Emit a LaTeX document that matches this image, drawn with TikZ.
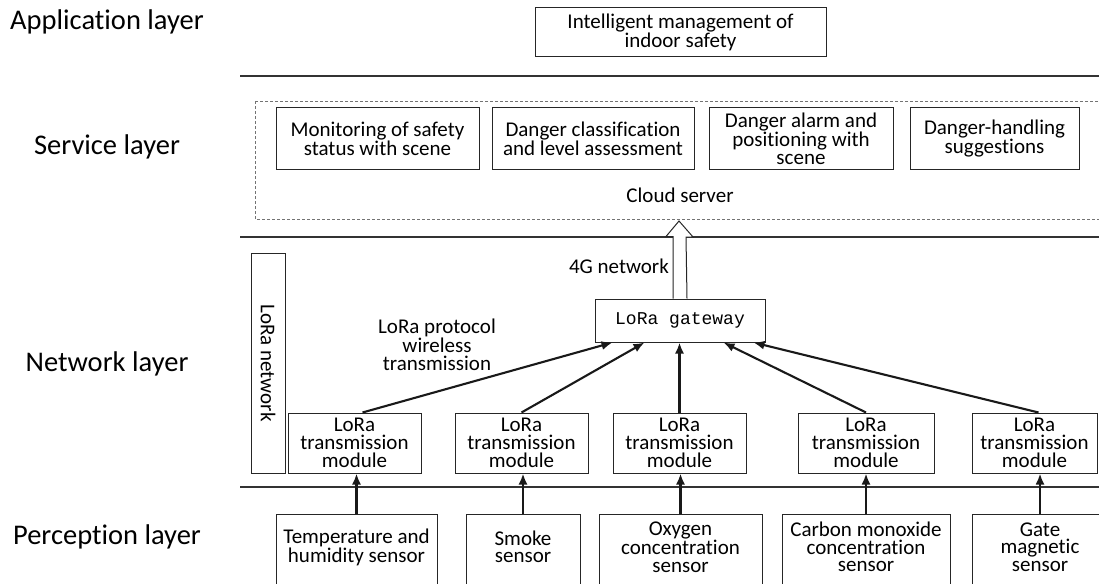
\documentclass[tikz,border=0pt]{standalone}
\usepackage{fontspec}
\setmainfont[Ligatures=NoCommon]{Carlito}
\newfontfamily\gwfont{Liberation Mono}
\usetikzlibrary{arrows.meta}

\begin{document}
\begin{tikzpicture}[x=1pt,y=-1pt,
  box/.style={draw=black!85, line width=1pt, inner sep=0pt, align=center,
    font=\fontsize{21}{18}\selectfont},
  plain/.style={inner sep=0pt, align=center, font=\fontsize{21}{17.5}\selectfont},
  layer/.style={inner sep=0pt, font=\fontsize{28.5}{30}\selectfont},
  sep/.style={draw=black!80, line width=1.3pt},
  link/.style={-{Latex[length=11pt,width=9pt]}, line width=2.1pt, black!90},
]
\useasboundingbox (0,0) rectangle (1099,583);
\clip (0,0) rectangle (1099,583);

% layer titles
\node[layer] (lapp)  at (107,22)  {Application layer};
\node[layer] (lserv) at (107,147) {Service layer};
\node[layer] (lnet)  at (107,364) {Network layer};
\node[layer] (lperc) at (107,537) {Perception layer};

% layer separators
\coordinate (s1a) at (240,76);  \coordinate (s1b) at (1099,76);
\coordinate (s2a) at (240,237); \coordinate (s2b) at (1099,237);
\coordinate (s3a) at (240,487); \coordinate (s3b) at (1099,487);
\draw[sep] (s1a) -- (s1b);
\draw[sep] (s2a) -- (s2b);
\draw[sep] (s3a) -- (s3b);

% application layer
\node[box, minimum width=291pt, minimum height=49pt] (app) at (680.5,32.5)
  {Intelligent management of\\indoor safety};

% service layer: cloud server
\draw[black!55, line width=0.8pt, dash pattern=on 3pt off 2pt] (255,101) rectangle (1106,219);
\node[box, minimum width=203pt, minimum height=61pt] (sv1) at (377.5,138.5)
  {Monitoring of safety\\status with scene};
\node[box, minimum width=202pt, minimum height=61pt] (sv2) at (593,138.5)
  {Danger classification\\and level assessment};
\node[box, minimum width=184pt, minimum height=61pt] (sv3) at (801,138.5)
  {Danger alarm and\\positioning with\\scene};
\node[box, minimum width=169pt, minimum height=61pt] (sv4) at (994.5,138.5)
  {Danger-handling\\suggestions};
\node[plain] (cloud) at (680,195) {Cloud server};

% network layer
\node[box, minimum width=34pt, minimum height=220pt] (lnetbox) at (268,363) {};
\node[plain, rotate=-90] (lnettxt) at (lnetbox.center) {LoRa network};

\node[box, minimum width=170pt, minimum height=43pt, font=\gwfont\fontsize{18}{20}\selectfont]
  (gw) at (680,320.5) {LoRa gateway};

% hollow arrow towards the cloud server
\draw[black!85, line width=1pt, fill=white]
  ([xshift=-7pt]gw.north) -- ++(0,-62) -- ++(-7,0) -- (679,221) -- (693,237)
  -- ++(-7,0) -- ([xshift=7pt]gw.north);
\node[plain, anchor=east] (g4) at (669,266) {4G network};

\node[plain] (proto) at (437,345) {LoRa protocol\\wireless\\transmission};

\node[box, minimum width=133pt, minimum height=60pt] (m1) at (354.5,443) {LoRa\\transmission\\module};
\node[box, minimum width=133pt, minimum height=60pt] (m2) at (521.5,443) {LoRa\\transmission\\module};
\node[box, minimum width=133pt, minimum height=60pt] (m3) at (679.5,443) {LoRa\\transmission\\module};
\node[box, minimum width=136pt, minimum height=60pt] (m4) at (866,443) {LoRa\\transmission\\module};
\node[box, minimum width=125pt, minimum height=60pt] (m5) at (1034.5,443) {LoRa\\transmission\\module};

\draw[link] ([xshift=8pt]m1.north) -- ([xshift=18pt]gw.south west);
\draw[link] (m2.north) -- ([xshift=50pt]gw.south west);
\draw[link] (m3.north) -- (m3.north |- gw.south);
\draw[link] (m4.north) -- ([xshift=-42pt]gw.south east);
\draw[link] ([xshift=4pt]m5.north) -- ([xshift=-12pt]gw.south east);

% perception layer: boxes run past the lower edge
\node[box, minimum width=161pt, minimum height=80pt] (p1) at (356.5,554) {};
\node[box, minimum width=114pt, minimum height=80pt] (p2) at (523,554) {};
\node[box, minimum width=163pt, minimum height=80pt] (p3) at (680.5,554) {};
\node[box, minimum width=168pt, minimum height=80pt] (p4) at (866,554) {};
\node[box, minimum width=136pt, minimum height=80pt] (p5) at (1040,554) {};
\node[plain] (p1t) at (356.5,547) {Temperature and\\humidity sensor};
\node[plain] (p2t) at (523,547) {Smoke\\sensor};
\node[plain] (p3t) at (680.5,547) {Oxygen\\concentration\\sensor};
\node[plain] (p4t) at (866,547) {Carbon monoxide\\concentration\\sensor};
\node[plain] (p5t) at (1040,547) {Gate\\magnetic\\sensor};

\draw[link] (p1.north) -- (p1.north |- m1.south);
\draw[link] (p2.north) -- (p2.north |- m2.south);
\draw[link] (p3.north) -- (p3.north |- m3.south);
\draw[link] (p4.north) -- (p4.north |- m4.south);
\draw[link] (p5.north) -- (p5.north |- m5.south);
\end{tikzpicture}
\end{document}
